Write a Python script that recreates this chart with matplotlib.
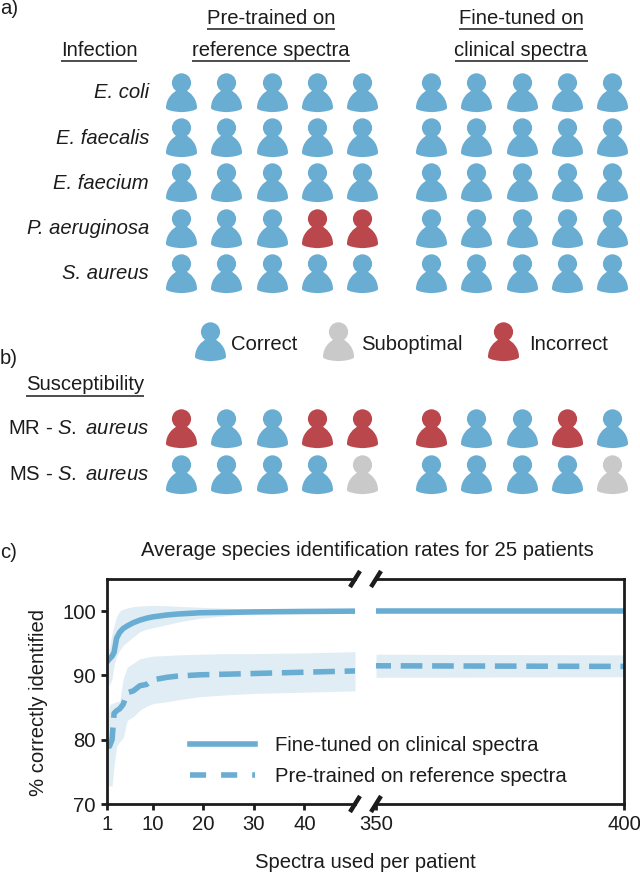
import numpy as np
import matplotlib
matplotlib.use("Agg")
import matplotlib.pyplot as plt
from matplotlib.path import Path
from matplotlib.lines import Line2D

plt.rcParams['font.family'] = ['Liberation Sans', 'DejaVu Sans']
plt.rcParams['mathtext.fontset'] = 'custom'
plt.rcParams['mathtext.rm'] = 'Liberation Sans'
plt.rcParams['mathtext.it'] = 'Liberation Sans:italic'

# ---- data ----
infections = ["E. coli", "E. faecalis", "E. faecium", "P. aeruginosa", "S. aureus"]
infection_pretrained = ["CCCCC", "CCCCC", "CCCCC", "CCCII", "CCCCC"]
infection_finetuned = ["CCCCC", "CCCCC", "CCCCC", "CCCCC", "CCCCC"]
susceptibility = [r"MR - $\mathit{S.\ aureus}$", r"MS - $\mathit{S.\ aureus}$"]
suscept_pretrained = ["ICCII", "CCCCS"]
suscept_finetuned = ["ICCIC", "CCCCS"]
status_names = ["Correct", "Suboptimal", "Incorrect"]

x_left = [1, 1.5, 2, 2.4, 2.9, 3.5, 4.2, 5, 6.2, 7.5, 8.8, 10, 12.8, 15, 19.4, 25, 30, 40, 50]
fine_mean = [92.1, 92.6, 93.0, 93.6, 95.8, 96.7, 97.3, 97.7, 98.2, 98.6, 98.9, 99.1, 99.4, 99.55, 99.75, 99.82, 99.88, 99.95, 100]
fine_hi = [92.5, 94.5, 96.5, 97.8, 99.2, 100.0, 100.3, 100.5, 100.7, 100.8, 100.85, 100.9, 100.85, 100.75, 100.6, 100.45, 100.3, 100.1, 100]
fine_lo = [90.5, 88.4, 89.5, 91.6, 93.0, 93.9, 94.7, 95.2, 96.0, 96.8, 97.2, 97.4, 97.9, 98.3, 98.9, 99.3, 99.6, 99.9, 100]
pre_mean = [79.0, 79.0, 80.0, 84.1, 84.5, 84.8, 85.5, 87.3, 87.6, 88.4, 88.6, 89.3, 89.7, 89.9, 90.1, 90.2, 90.3, 90.5, 90.7]
pre_hi = [82.0, 85.5, 85.6, 85.8, 85.9, 86.0, 89.5, 91.3, 91.9, 92.6, 92.8, 93.0, 93.1, 93.2, 93.3, 93.4, 93.4, 93.5, 93.7]
pre_lo = [73.0, 72.8, 72.8, 76.0, 79.0, 79.7, 80.3, 83.0, 83.6, 84.6, 85.2, 85.6, 85.9, 86.2, 86.7, 87.0, 87.2, 87.4, 87.6]

x_right = [350, 400]
fine_right = [100, 100]
pre_right = [91.5, 91.4]
pre_right_hi = [93.3, 93.2]
pre_right_lo = [89.7, 89.8]

yticks = [70, 80, 90, 100]
xticks_left = [1, 10, 20, 30, 40]
xticks_right = [350, 400]

# ---- style ----
BLUE = "#6AADD2"
BAND = "#E1EDF5"
RED = "#B9474B"
GRAY = "#C8C9C8"
INK = "#1c1c1c"
colors = {"C": BLUE, "S": GRAY, "I": RED}
FS = 14.6

fig = plt.figure(figsize=(6.4, 8.75), dpi=100)
W, H = 640, 875


def person_marker():
    head = Path.unit_circle()
    head = Path(head.vertices * 9.6 + np.array([0, 9.6]), head.codes)
    v = [(-15.5, -15.5), (-15.5, -18), (-5, -19.6), (0, -19.6), (5, -19.6), (15.5, -18), (15.5, -15.5),
         (15.5, -6), (9, 0), (4, 2.5), (-4, 2.5), (-9, 0), (-15.5, -6), (-15.5, -15.5), (-15.5, -15.5)]
    c = [Path.MOVETO] + [Path.CURVE4] * 6 + [Path.CURVE4] * 3 + [Path.LINETO] + [Path.CURVE4] * 3 + [Path.CLOSEPOLY]
    body = Path(np.array(v), c)
    return Path.make_compound_path(head, body)


PERSON = person_marker()
PSIZE = (19.6 * 2 * 0.72) ** 2

bg = fig.add_axes([0, 0, 1, 1])
bg.set_xlim(0, W)
bg.set_ylim(H, 0)
bg.axis("off")


def draw_people(rows, x0, y0, dx=45.3, dy=45.2):
    for r, row in enumerate(rows):
        for c, st in enumerate(row):
            bg.scatter([x0 + c * dx], [y0 + r * dy], s=PSIZE, marker=PERSON,
                       color=colors[st], linewidths=0)


draw_people(infection_pretrained, 181, 92)
draw_people(infection_finetuned, 431, 92)
draw_people(suscept_pretrained, 181, 428, dy=45.5)
draw_people(suscept_finetuned, 431, 428, dy=45.5)


def label(x, y, s, ha="center", va="center", underline=False, **kw):
    t = bg.text(x, y, s, ha=ha, va=va, fontsize=FS, color=INK, **kw)
    if underline:
        fig.canvas.draw()
        bb = t.get_window_extent()
        bg.plot([bb.x0, bb.x1], [y + 10.5, y + 10.5], color=INK, lw=1.1, solid_capstyle="butt")
    return t


label(271, 18, "Pre-trained on", underline=True)
label(271, 50, "reference spectra", underline=True)
label(521, 18, "Fine-tuned on", underline=True)
label(521, 50, "clinical spectra", underline=True)
label(99, 50, "Infection", underline=True)
label(85, 385, "Susceptibility", underline=True)
for i, name in enumerate(infections):
    label(149, 93 + i * 45.2, name, ha="right", style="italic")
for i, name in enumerate(susceptibility):
    label(149, 429 + i * 45.5, name, ha="right")
label(0, 8, "a)", ha="left")
label(0, 358, "b)", ha="left")
label(0, 553, "c)", ha="left")

for name, key, xp, xt in zip(status_names, "CSI", [210, 338, 503], [231, 361, 529]):
    bg.scatter([xp], [341], s=PSIZE, marker=PERSON, color=colors[key], linewidths=0)
    label(xt, 345, name, ha="left")

label(367, 550, "Average species identification rates for 25 patients")
label(365, 862, "Spectra used per patient")
label(39, 703, "% correctly identified", rotation=90)

# ---- panel c ----
top, bottom = 579, 804
ax_h = (bottom - top) / H
ax1 = fig.add_axes([107 / W, 1 - bottom / H, (355 - 107) / W, ax_h])
ax2 = fig.add_axes([376 / W, 1 - bottom / H, (624 - 376) / W, ax_h])

LW = 4.0
DASH = (3.9, 1.75)
ax1.fill_between(x_left, fine_lo, fine_hi, color=BAND, linewidth=0)
ax1.fill_between(x_left, pre_lo, pre_hi, color=BAND, linewidth=0)
ax1.plot(x_left, fine_mean, color=BLUE, lw=LW, solid_joinstyle="round")
ax1.plot(x_left, pre_mean, color=BLUE, lw=LW, linestyle=(0, DASH), dash_capstyle="butt")
ax2.fill_between(x_right, pre_right_lo, pre_right_hi, color=BAND, linewidth=0)
ax2.plot(x_right, fine_right, color=BLUE, lw=LW)
ax2.plot(x_right, pre_right, color=BLUE, lw=LW, linestyle=(1.2, DASH), dash_capstyle="butt")

ax1.set_xlim(1, 50)
ax2.set_xlim(350, 400)
for ax in (ax1, ax2):
    ax.set_ylim(70, 105)
    for s in ax.spines.values():
        s.set_linewidth(2.0)
        s.set_color(INK)
    ax.tick_params(width=2.0, length=4, labelsize=FS, colors=INK, pad=4)
    ax.patch.set_alpha(0)
ax1.spines["right"].set_visible(False)
ax2.spines["left"].set_visible(False)
ax1.set_xticks(xticks_left)
ax2.set_xticks(xticks_right)
ax1.set_yticks(yticks)
ax2.set_yticks([])

# break marks
for ax, xa in ((ax1, 1.0), (ax2, 0.0)):
    for ya in (0.0, 1.0):
        ax.annotate("", xy=(xa, ya), xycoords="axes fraction", annotation_clip=False)
        ax.plot([xa, xa], [ya, ya], transform=ax.transAxes, alpha=0)
        tr = ax.transAxes + matplotlib.transforms.ScaledTranslation(0, 0, fig.dpi_scale_trans)
        dx_, dy_ = 5 / (355 - 107), 8 / (bottom - top)
        ax.plot([xa - dx_ if ax is ax1 else xa - dx_ * 1.0 * (248 / 248), xa + dx_],
                [ya - dy_, ya + dy_], transform=ax.transAxes, color=INK, lw=3.2,
                clip_on=False, solid_capstyle="butt", zorder=10)

handles = [
    Line2D([], [], color=BLUE, lw=LW, label="Fine-tuned on clinical spectra"),
    Line2D([], [], color=BLUE, lw=LW, linestyle=(0, (2.9, 2.7)), dash_capstyle="butt",
           label="Pre-trained on reference spectra"),
]
fig.legend(handles=handles, loc="lower left", bbox_to_anchor=(190 / W, 1 - 786 / H), frameon=False,
           fontsize=FS, labelcolor=INK, handlelength=3.2, handletextpad=1.0, labelspacing=0.6,
           borderpad=0, borderaxespad=0)

fig.savefig("out.png", dpi=100)
